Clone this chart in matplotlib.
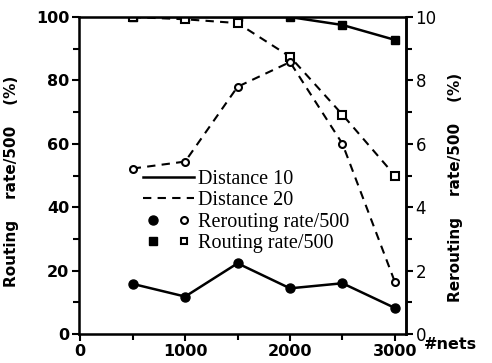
import matplotlib
matplotlib.use("Agg")
import matplotlib.pyplot as plt
from matplotlib.lines import Line2D
from matplotlib.legend_handler import HandlerTuple
from matplotlib.ticker import MultipleLocator

# data
nets = [500, 1000, 1500, 2000, 2500, 3000]
routing_d10 = [100, 100, 100, 100, 97.5, 92.8]
rerouting_d10 = [15.8, 11.8, 22.3, 14.4, 16.0, 8.2]
routing_d20 = [100, 99.3, 98.1, 87.5, 69.2, 50.0]
rerouting_d20 = [52.2, 54.4, 78.0, 85.8, 60.0, 16.4]

plt.rcParams.update({'font.family': 'DejaVu Sans'})
fig = plt.figure(figsize=(4.92, 3.63), dpi=100)
ax = fig.add_axes([0.161, 0.080, 0.664, 0.873])

lw = 1.8
ax.plot(nets, routing_d10, '-s', color='black', lw=lw, ms=6, mfc='black')
ax.plot(nets, rerouting_d10, '-o', color='black', lw=lw, ms=6.5, mfc='black')
ax.plot(nets, routing_d20, '--s', color='black', lw=1.5, ms=5.5, mfc='white', mew=1.5, dashes=(4, 3))
ax.plot(nets, rerouting_d20, '--o', color='black', lw=1.5, ms=5, mfc='white', mew=1.5, dashes=(4, 3))

ax.set_xlim(-10, 3105)
ax.set_ylim(0, 100)
ax.xaxis.set_major_locator(MultipleLocator(1000))
ax.xaxis.set_minor_locator(MultipleLocator(500))
ax.yaxis.set_major_locator(MultipleLocator(20))
ax.yaxis.set_minor_locator(MultipleLocator(10))
ax.tick_params(which='both', direction='out', width=1.5, labelsize=11.5)
ax.tick_params(which='major', length=5, pad=2)
ax.tick_params(which='minor', length=4)
for lab in ax.get_xticklabels() + ax.get_yticklabels():
    lab.set_fontweight('bold')
for s in ax.spines.values():
    s.set_linewidth(1.8)

ax2 = ax.twinx()
ax2.set_ylim(0, 10)
ax2.yaxis.set_major_locator(MultipleLocator(2))
ax2.yaxis.set_minor_locator(MultipleLocator(1))
ax2.tick_params(which='both', direction='out', width=1.5, labelsize=12)
ax2.tick_params(which='major', length=5, pad=2)
ax2.tick_params(which='minor', length=4)
ax2.spines['right'].set_linewidth(1.8)

ax.set_ylabel('Routing    rate/500    (%)', fontsize=11, fontweight='bold', labelpad=8)
ax.yaxis.set_label_coords(-0.185, 0.48)
ax2.set_ylabel('Rerouting    rate/500    (%)', fontsize=11, fontweight='bold', rotation=90)
ax2.yaxis.set_label_coords(1.13, 0.462)
fig.text(0.862, 0.052, '#nets', fontsize=11.5, fontweight='bold', ha='left', va='center')

handles = [
    Line2D([], [], color='black', lw=lw),
    Line2D([], [], color='black', lw=1.5, ls=(0, (4, 3))),
    (Line2D([], [], marker='o', color='black', ls='none', ms=6.5),
     Line2D([], [], marker='o', color='black', mfc='white', ls='none', ms=5, mew=1.5)),
    (Line2D([], [], marker='s', color='black', ls='none', ms=6),
     Line2D([], [], marker='s', color='black', mfc='white', ls='none', ms=5, mew=1.5)),
]
labels = ['Distance 10', 'Distance 20', 'Rerouting rate/500', 'Routing rate/500']
ax.legend(handles, labels, loc='upper left', bbox_to_anchor=(0.165, 0.55),
          frameon=False, prop={'family': 'Liberation Serif', 'size': 14.5},
          handlelength=2.5, handletextpad=0.2, labelspacing=0.12, borderpad=0,
          handler_map={tuple: HandlerTuple(ndivide=None, pad=0.6)})

fig.savefig('out.png', dpi=100)
